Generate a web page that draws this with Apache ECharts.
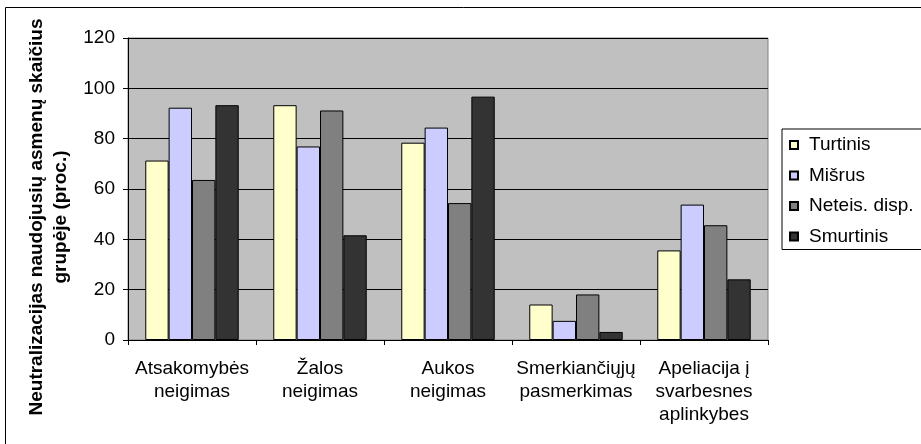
<!DOCTYPE html>
<html>
<head>
<meta charset="utf-8">
<script src="https://cdn.jsdelivr.net/npm/echarts@6/dist/echarts.min.js"></script>
<style>
  html, body { margin: 0; padding: 0; background: #fff; }
  #chart { width: 921px; height: 444px; }
</style>
</head>
<body>
<div id="chart"></div>
<script>
// chart data
const categories = [
  'Atsakomybės\nneigimas',
  'Žalos\nneigimas',
  'Aukos\nneigimas',
  'Smerkiančiųjų\npasmerkimas',
  'Apeliacija į\nsvarbesnes\naplinkybes'
]
const seriesNames = ['Turtinis', 'Mišrus', 'Neteis. disp.', 'Smurtinis']
const turtinis = [71.3, 93.3, 78.4, 14.1, 35.6]
const misrus = [92.3, 76.9, 84.4, 7.6, 53.8]
const neteis = [63.6, 91.2, 54.4, 18.1, 45.6]
const smurtinis = [93.3, 41.6, 96.7, 3.2, 24.1]
const yTicks = { min: 0, max: 120, interval: 20 }
const yTitle = 'Neutralizacijas naudojusių asmenų skaičius\ngrupėje (proc.)'

const colors = ['#FFFFCC', '#CCCCFF', '#808080', '#333333']
const font = 'Liberation Sans, Arial, sans-serif'

const chart = echarts.init(document.getElementById('chart'), null, { renderer: 'canvas' })

function bar(name, data, i) {
  return {
    name: name,
    type: 'bar',
    data: data,
    barGap: '0%',
    barCategoryGap: '27%',
    itemStyle: { color: colors[i], borderColor: '#000', borderWidth: 1 }
  }
}

chart.setOption({
  animation: false,
  backgroundColor: '#fff',
  textStyle: { fontFamily: font },
  grid: {
    left: 128,
    right: 153,
    top: 38,
    bottom: 104,
    show: true,
    backgroundColor: '#c0c0c0',
    borderColor: '#808080',
    borderWidth: 1
  },
  legend: {
    orient: 'vertical',
    left: 782,
    top: 129,
    padding: [6, 8, 3, 7],
    itemGap: 10.5,
    itemWidth: 8,
    itemHeight: 8,
    icon: 'rect',
    backgroundColor: '#fff',
    borderColor: '#000',
    borderWidth: 1,
    borderRadius: 0,
    textStyle: { fontSize: 19, color: '#000', fontFamily: font, lineHeight: 20, padding: [0, 0, 0, 6] },
    data: seriesNames
  },
  xAxis: {
    type: 'category',
    data: categories,
    axisLine: { lineStyle: { color: '#000', width: 1 } },
    axisTick: { show: true, length: 5, lineStyle: { color: '#000' } },
    axisLabel: { fontSize: 19, color: '#000', lineHeight: 23, margin: 17, interval: 0, fontFamily: font }
  },
  yAxis: {
    type: 'value',
    min: yTicks.min,
    max: yTicks.max,
    interval: yTicks.interval,
    axisLine: { show: true, lineStyle: { color: '#000', width: 1 } },
    axisTick: { show: true, length: 5, lineStyle: { color: '#000' } },
    axisLabel: { fontSize: 19, color: '#000', margin: 13, fontFamily: font },
    splitLine: { show: true, lineStyle: { color: '#000', width: 1 } }
  },
  graphic: [
    {
      type: 'rect',
      silent: true,
      shape: { x: 5.5, y: 7.5, width: 1000, height: 1000 },
      style: { fill: null, stroke: '#000', lineWidth: 1 }
    },
    {
      type: 'text',
      silent: true,
      x: 49,
      y: 217,
      rotation: Math.PI / 2,
      style: {
        text: yTitle,
        font: 'bold 19px ' + font,
        fill: '#000',
        align: 'center',
        verticalAlign: 'middle',
        lineHeight: 24
      }
    }
  ],
  series: [
    bar(seriesNames[0], turtinis, 0),
    bar(seriesNames[1], misrus, 1),
    bar(seriesNames[2], neteis, 2),
    bar(seriesNames[3], smurtinis, 3)
  ]
})
</script>
</body>
</html>
